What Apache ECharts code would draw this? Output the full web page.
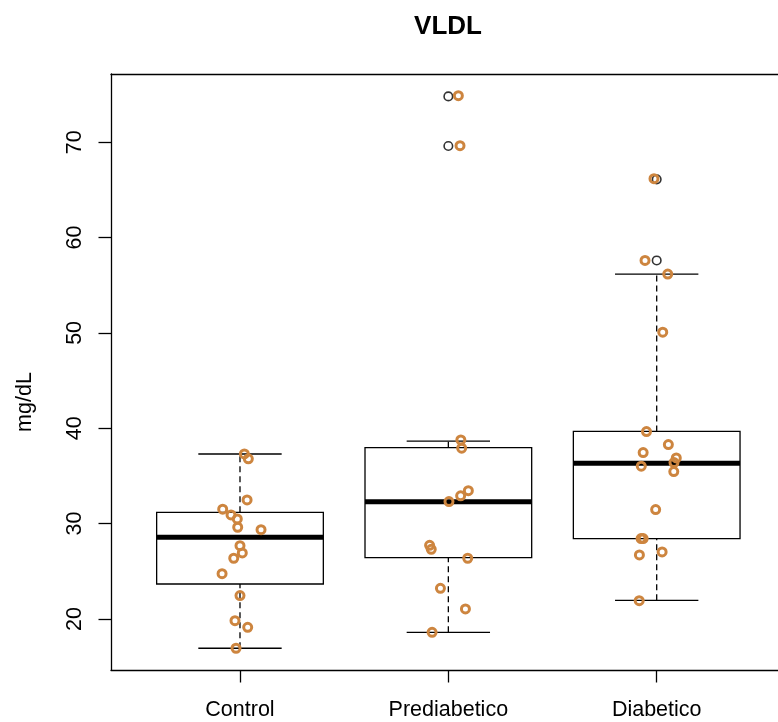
<!DOCTYPE html>
<html>
<head>
<meta charset="utf-8">
<script src="https://cdn.jsdelivr.net/npm/echarts@6/dist/echarts.min.js"></script>
<style>html,body{margin:0;padding:0;background:#fff}#c{width:778px;height:722px}</style>
</head>
<body>
<div id="c"></div>
<script>
// ---- data ----
const categories = ['Control', 'Prediabetico', 'Diabetico'];
const yTicks = [20, 30, 40, 50, 60, 70];
// box stats: [lower whisker, Q1, median, Q3, upper whisker]
const controlBox = [16.93, 23.67, 28.56, 31.18, 37.3];
const prediabeticoBox = [18.6, 26.43, 32.3, 37.96, 38.66];
const diabeticoBox = [21.96, 28.42, 36.32, 39.67, 56.16];
// outliers (group position, value)
const outlierGroup = [2, 2, 3, 3];
const outlierValue = [74.8, 69.6, 66.1, 57.6];
// jittered observations: x position and value
const controlX = [1.021, 1.040, 1.034, 0.917, 0.957, 0.987, 0.989, 1.101, 1.000, 1.011, 0.970, 0.914, 1.000, 0.976, 1.037, 0.981];
const controlY = [37.31, 36.79, 32.49, 31.51, 30.91, 30.49, 29.62, 29.37, 27.69, 26.93, 26.37, 24.75, 22.45, 19.82, 19.13, 16.93];
const prediabeticoX = [2.060, 2.064, 2.096, 2.059, 2.003, 1.910, 1.918, 2.093, 1.962, 2.082, 1.922, 2.048, 2.056];
const prediabeticoY = [38.78, 37.91, 33.46, 32.91, 32.31, 27.73, 27.31, 26.37, 23.22, 21.05, 18.60, 74.88, 69.63];
const diabeticoX = [3.029, 2.951, 3.056, 2.935, 3.094, 3.083, 2.926, 3.082, 2.995, 2.925, 2.935, 2.917, 3.026, 2.916, 2.987, 2.944, 3.053];
const diabeticoY = [50.08, 39.65, 38.29, 37.45, 36.89, 36.40, 36.02, 35.46, 31.47, 28.43, 28.43, 26.72, 27.03, 21.92, 66.17, 57.60, 56.17];

// ---- build ----
const FONT = "'Liberation Sans', Arial, Helvetica, sans-serif";
const boxes = [controlBox, prediabeticoBox, diabeticoBox].map((b, i) => [i + 1].concat(b));
const outliers = outlierGroup.map((g, i) => [g, outlierValue[i]]);
const points = [];
[[controlX, controlY], [prediabeticoX, prediabeticoY], [diabeticoX, diabeticoY]].forEach(([xs, ys]) => {
  xs.forEach((x, i) => points.push([x, ys[i]]));
});

const chart = echarts.init(document.getElementById('c'), null, {renderer: 'canvas'});

function renderBox(params, api) {
  const x = api.value(0);
  const lo = api.value(1), q1 = api.value(2), med = api.value(3), q3 = api.value(4), hi = api.value(5);
  const half = 0.4, cap = 0.2;
  const p = (a, b) => api.coord([a, b]);
  const black = {stroke: '#000', lineWidth: 1.3, fill: null};
  const dashed = {stroke: '#000', lineWidth: 1.3, lineDash: [6, 4]};
  const L = (a, b, c, d, style) => {
    const s = p(a, b), e = p(c, d);
    return {type: 'line', shape: {x1: s[0], y1: s[1], x2: e[0], y2: e[1]}, style: style};
  };
  const tl = p(x - half, q3), br = p(x + half, q1);
  return {
    type: 'group',
    children: [
      L(x, q3, x, hi, dashed),
      L(x, lo, x, q1, dashed),
      L(x - cap, hi, x + cap, hi, black),
      L(x - cap, lo, x + cap, lo, black),
      {type: 'rect', shape: {x: tl[0], y: tl[1], width: br[0] - tl[0], height: br[1] - tl[1]}, style: black},
      L(x - half, med, x + half, med, {stroke: '#000', lineWidth: 5})
    ]
  };
}

const frameLine = {show: true, onZero: false, lineStyle: {color: '#000', width: 1.3}};

chart.setOption({
  animation: false,
  backgroundColor: '#fff',
  textStyle: {fontFamily: FONT},
  title: {
    text: 'VLDL', left: 448, top: 14, textAlign: 'center', padding: 0,
    textStyle: {fontFamily: FONT, fontWeight: 'bold', fontSize: 26, color: '#000'}
  },
  grid: {left: 111, top: 74, right: 0, height: 596, show: false},
  xAxis: [{
    type: 'value', min: 0.3809, max: 3.5822, position: 'bottom',
    axisLine: frameLine,
    splitLine: {show: false},
    axisTick: {show: true, customValues: [1, 2, 3], length: 12.5, lineStyle: {color: '#000', width: 1.3}},
    axisLabel: {
      customValues: [1, 2, 3], formatter: v => categories[Math.round(v) - 1],
      fontSize: 21.5, color: '#000', margin: 29, fontFamily: FONT
    }
  }, {
    type: 'value', min: 0.3809, max: 3.5822, position: 'top',
    axisLine: frameLine, axisTick: {show: false}, axisLabel: {show: false}, splitLine: {show: false}
  }],
  yAxis: {
    type: 'value', min: 14.65, max: 77.15,
    name: 'mg/dL', nameLocation: 'middle', nameGap: 75,
    nameTextStyle: {fontSize: 21.5, color: '#000', fontFamily: FONT, padding: [0, 60, 0, 0]},
    axisLine: frameLine,
    splitLine: {show: false},
    axisTick: {show: true, customValues: yTicks, length: 12.5, lineStyle: {color: '#000', width: 1.3}},
    axisLabel: {customValues: yTicks, rotate: 90, fontSize: 21.5, color: '#000', margin: 25, fontFamily: FONT}
  },
  series: [
    {type: 'custom', renderItem: renderBox, data: boxes, encode: {x: 0, y: [1, 2, 3, 4, 5]}, z: 2},
    {type: 'scatter', data: outliers, symbol: 'circle', symbolSize: 8.5,
     itemStyle: {color: 'transparent', borderColor: '#000', borderWidth: 1.6}, z: 3},
    {type: 'scatter', data: points, symbol: 'circle', symbolSize: 8,
     itemStyle: {color: 'transparent', borderColor: '#CD853F', borderWidth: 3, opacity: 1}, z: 4}
  ]
});
</script>
</body>
</html>
